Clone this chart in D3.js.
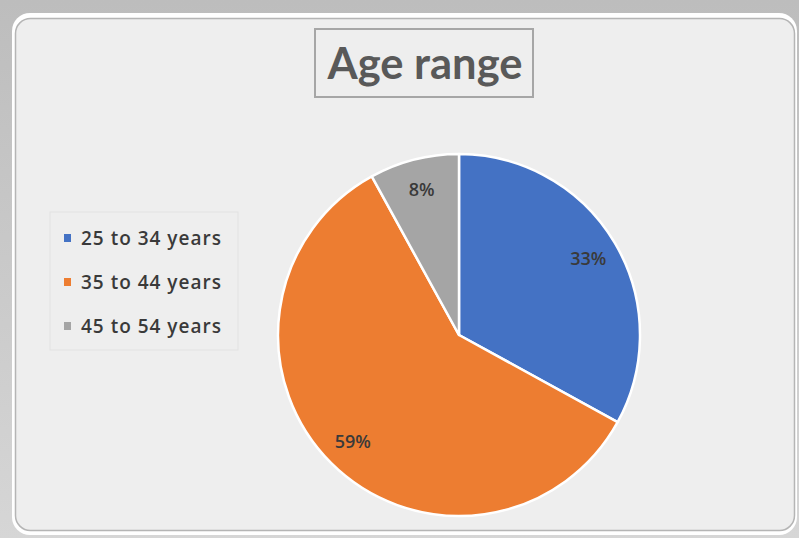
<!DOCTYPE html>
<html>
<head>
<meta charset="utf-8">
<script src="https://cdn.jsdelivr.net/npm/d3@7"></script>
<style>
  html, body { margin: 0; padding: 0; background: #ffffff; }
  svg { display: block; }
</style>
</head>
<body>
<div id="chart"></div>
<script>
var width = 799;
var height = 538;

// data
var categories = ["25 to 34 years", "35 to 44 years", "45 to 54 years"];
var values = [33, 59, 8];
var colors = ["#4472c4", "#ed7d31", "#a5a5a5"];
var title = "Age range";

var cx = 459, cy = 335, radius = 181;

const svg = d3.select("#chart").append("svg")
  .attr("width", width)
  .attr("height", height);

// outer shadow frame
const defs = svg.append("defs");
const grad = defs.append("linearGradient").attr("id", "topShade")
  .attr("x1", 0).attr("y1", 0).attr("x2", 0).attr("y2", 1);
grad.append("stop").attr("offset", "0%").attr("stop-color", "#bdbdbd");
grad.append("stop").attr("offset", "100%").attr("stop-color", "#d6d6d6");

svg.append("rect")
  .attr("width", width).attr("height", height)
  .attr("fill", "url(#topShade)");

svg.append("rect")
  .attr("x", 12).attr("y", 13)
  .attr("width", width - 14).attr("height", height - 16)
  .attr("rx", 18)
  .attr("fill", "#ffffff");

svg.append("rect")
  .attr("x", 15.5).attr("y", 18.5)
  .attr("width", width - 20).attr("height", height - 26)
  .attr("rx", 15)
  .attr("fill", "#eeeeee")
  .attr("stroke", "#b5b5b5")
  .attr("stroke-width", 1.5);

// title
const titleG = svg.append("g");
titleG.append("rect")
  .attr("x", 315).attr("y", 29)
  .attr("width", 218).attr("height", 68)
  .attr("fill", "none")
  .attr("stroke", "#a6a6a6")
  .attr("stroke-width", 2);
titleG.append("text")
  .attr("x", 425).attr("y", 79)
  .attr("text-anchor", "middle")
  .attr("font-family", "Lato, 'Open Sans', sans-serif")
  .attr("font-weight", 700)
  .attr("font-size", 43.5)
  .attr("fill", "#595959")
  .text(title);

// pie
const data = categories.map((c, i) => ({name: c, value: values[i], color: colors[i]}));

const pie = d3.pie()
  .sort(null)
  .value(d => d.value);

const arc = d3.arc()
  .innerRadius(0)
  .outerRadius(radius);

const labelArc = d3.arc()
  .innerRadius(radius * 0.83)
  .outerRadius(radius * 0.83);

const gPie = svg.append("g")
  .attr("transform", `translate(${cx},${cy})`);

const arcs = pie(data);

gPie.selectAll("path")
  .data(arcs)
  .join("path")
    .attr("d", arc)
    .attr("fill", d => d.data.color)
    .attr("stroke", "#ffffff")
    .attr("stroke-width", 2.5)
    .attr("stroke-linejoin", "round");

gPie.selectAll("text")
  .data(arcs)
  .join("text")
    .attr("transform", d => `translate(${labelArc.centroid(d)})`)
    .attr("text-anchor", "middle")
    .attr("dy", "0.35em")
    .attr("font-family", "'Open Sans', Lato, sans-serif")
    .attr("font-weight", 600)
    .attr("font-size", 18)
    .attr("fill", "#3a3a3a")
    .text(d => d.data.value + "%");

// legend
const legend = svg.append("g");
legend.append("rect")
  .attr("x", 50).attr("y", 212)
  .attr("width", 188).attr("height", 138)
  .attr("fill", "none")
  .attr("stroke", "#e2e2e2")
  .attr("stroke-width", 1);

const rowY = d3.scalePoint()
  .domain(categories)
  .range([238, 326]);

const items = legend.selectAll("g.item")
  .data(data)
  .join("g")
    .attr("class", "item")
    .attr("transform", d => `translate(0,${rowY(d.name)})`);

items.append("rect")
  .attr("x", 64).attr("y", -4)
  .attr("width", 7).attr("height", 8)
  .attr("fill", d => d.color);

items.append("text")
  .attr("x", 81)
  .attr("dy", "0.36em")
  .attr("font-family", "'Open Sans', Lato, sans-serif")
  .attr("font-weight", 600)
  .attr("font-size", 19)
  .attr("letter-spacing", 1)
  .attr("fill", "#3a3a3a")
  .text(d => d.name);
</script>
</body>
</html>
